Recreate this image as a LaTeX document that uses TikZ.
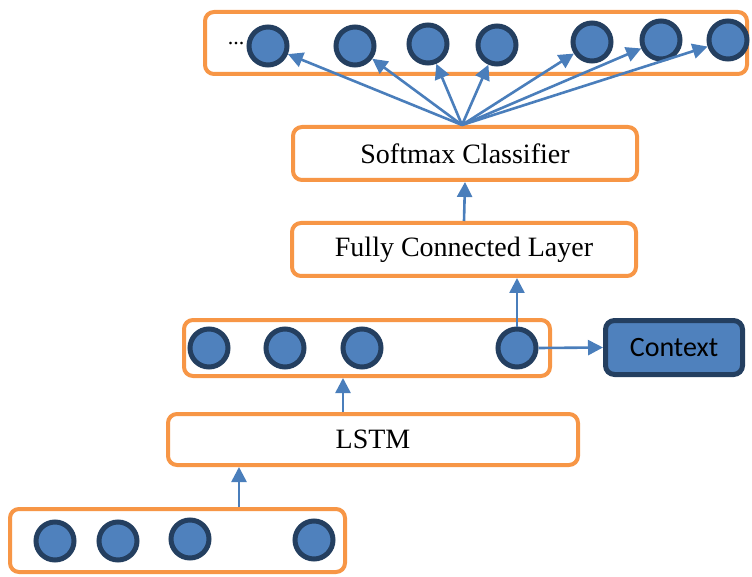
\documentclass[tikz,border=0pt]{standalone}
\usepackage{fontspec}
\setmainfont{Liberation Serif}
\newfontfamily\ctxfont{Carlito}
\usepackage{tikz}
\usetikzlibrary{shapes,arrows.meta}

\definecolor{boxorange}{HTML}{F79646}
\definecolor{unitblue}{HTML}{4F81BD}
\definecolor{unitdark}{HTML}{243F60}
\definecolor{linkblue}{HTML}{4A7EBB}

\tikzset{
  layer/.style={draw=boxorange, line width=4pt, rounded corners=9pt, fill=white,
    inner sep=0pt, font=\fontsize{28}{32}\selectfont},
  unit/.style={circle, draw=unitdark, line width=5pt, fill=unitblue,
    minimum size=38pt, inner sep=0pt},
  link/.style={draw=linkblue, line width=2.6pt, -{Triangle[length=15pt,width=15pt]}},
}

\begin{document}
\begin{tikzpicture}[x=1pt, y=-1pt]
\useasboundingbox (0,0) rectangle (752,577);

% layers
\node[layer, minimum width=542pt, minimum height=62pt] (outbox) at (476,43) {};
\node[layer, minimum width=344pt, minimum height=53pt] (softmax) at (465,153.5) {Softmax Classifier};
\node[layer, minimum width=344pt, minimum height=53pt] (fc) at (464,249.5) {Fully Connected Layer};
\node[layer, minimum width=366pt, minimum height=56pt] (midbox) at (367,348) {};
\node[layer, minimum width=410pt, minimum height=51pt] (lstm) at (373,439.5) {LSTM};
\node[layer, minimum width=335pt, minimum height=63pt] (inbox) at (177.5,540.5) {};
\node[draw=unitdark, line width=5pt, fill=unitblue, rounded corners=9pt,
  minimum width=137pt, minimum height=54pt, font=\ctxfont\fontsize{28}{32}\selectfont]
  (context) at (674,347.5) {Context};

% output units
\node[font=\fontsize{22}{26}\selectfont] (dots) at (236,44) {...};
\node[unit] (o1) at (268,46) {};
\node[unit] (o2) at (355,46) {};
\node[unit] (o3) at (428,44) {};
\node[unit] (o4) at (497,45) {};
\node[unit] (o5) at (592,42) {};
\node[unit] (o6) at (661,40) {};
\node[unit] (o7) at (728,40) {};

% hidden units
\node[unit] (m1) at (209,348) {};
\node[unit] (m2) at (285,348) {};
\node[unit] (m3) at (362,348) {};
\node[unit] (m4) at (517,348) {};

% input units
\node[unit] (i1) at (55,541) {};
\node[unit] (i2) at (118,541) {};
\node[unit] (i3) at (190,539) {};
\node[unit] (i4) at (314,540) {};

% connections
\foreach \n in {1,...,7}
  \draw[link] ([xshift=-3pt]softmax.north) -- (o\n);
\draw[link] (fc.north) -- (softmax.south);
\draw[link] (m4.north) -- (m4.north |- fc.south);
\draw[link] (m4.east) -- (context.west);
\draw[link] ([xshift=-30pt]lstm.north) -- ([xshift=-30pt]lstm.north |- midbox.south);
\draw[link] ([xshift=61.5pt]inbox.north) -- ([xshift=61.5pt]inbox.north |- lstm.south);
\end{tikzpicture}
\end{document}
